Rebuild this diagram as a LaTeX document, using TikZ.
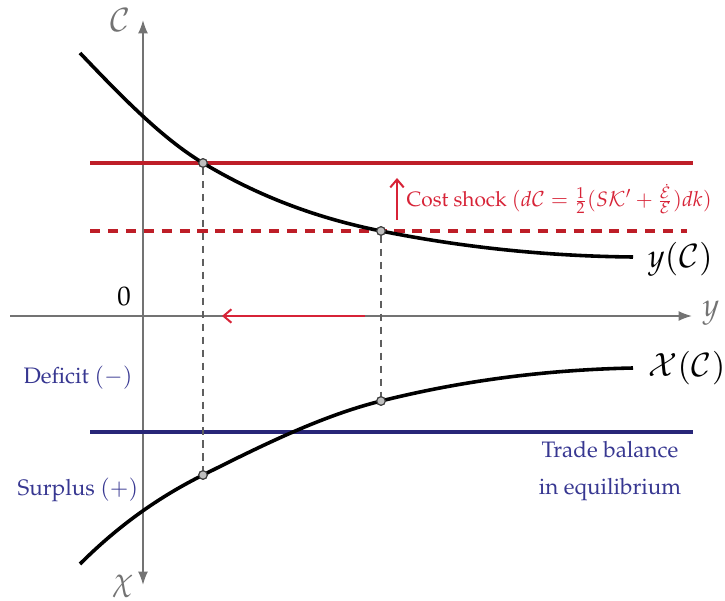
\documentclass[tikz,border=0pt]{standalone}
\usepackage[T1]{fontenc}
\usepackage{mathpazo}
\usetikzlibrary{arrows.meta, positioning}
\definecolor{CR}{RGB}{190,30,40}
\definecolor{TR}{RGB}{215,35,55}
\definecolor{NB}{RGB}{40,38,120}
\definecolor{TB}{RGB}{55,55,145}
\definecolor{AG}{RGB}{115,115,115}
\definecolor{DG}{RGB}{95,95,95}

\begin{document}
\begin{tikzpicture}[x=0.0157cm, y=-0.0157cm,
  axis/.style={draw=AG, line width=0.8pt},
  curve/.style={draw=black, line width=1.6pt},
  level/.style={draw=#1, line width=1.6pt},
  drop/.style={draw=DG, line width=0.8pt, dash pattern=on 3.2pt off 2.6pt},
  dot/.style={circle, draw=black!75, fill=black!25, line width=0.5pt,
              inner sep=0pt, minimum size=3.8pt},
  shockarr/.style={-{Straight Barb[length=3.5pt, width=6pt]}, draw=TR, line width=0.9pt},
  axlbl/.style={text=AG, font=\Large},
  blbl/.style={text=TB, font=\normalsize}
]
\useasboundingbox (0,0) rectangle (725,601);

% axes
\coordinate (vbot) at (143,585);
\coordinate (vtop) at (143,20);
\coordinate (hleft) at (10,316);
\coordinate (hright) at (692,316);
\draw[axis, {Latex[length=6pt, width=4.5pt]}-{Latex[length=6pt, width=4.5pt]}] (vbot) -- (vtop);
\draw[axis, -{Latex[length=6pt, width=4.5pt]}] (hleft) -- (hright);
\node[axlbl] (Clbl) at (120,20) {$\mathcal{C}$};
\node[axlbl] (chilbl) at (123,586) {$\chi$};
\node[axlbl] (ylbl) at (711,313) {$y$};
\node[font=\large] (zero) at (124,296) {0};

% cost levels and trade balance
\coordinate (rL) at (90,163);  \coordinate (rR) at (693,163);
\coordinate (dL) at (90,231);  \coordinate (dR) at (687,231);
\coordinate (bL) at (90,432);  \coordinate (bR) at (693,432);
\draw[level=CR] (rL) -- (rR);
\draw[level=CR, dash pattern=on 4.5pt off 3.5pt] (dL) -- (dR);
\draw[level=NB] (bL) -- (bR);

% intersection points
\node[dot] (eA) at (203,163) {};
\node[dot] (eB) at (381,231) {};
\node[dot] (xA) at (203,475) {};
\node[dot] (xB) at (381,401) {};
\draw[drop] (eA) -- (xA);
\draw[drop] (eB) -- (xB);

% curves
\coordinate (yS) at (80,53);   \coordinate (yE) at (633,257);
\coordinate (xS) at (80,564);  \coordinate (xE) at (633,368);
\draw[curve] (yS) .. controls (121,96) and (162,138.4) .. (eA.center)
  .. controls (262.3,198.6) and (321.7,219.1) .. (eB.center)
  .. controls (465,247.8) and (549,256.2) .. (yE);
\draw[curve] (xS) .. controls (121,523) and (162,495.5) .. (xA.center)
  .. controls (262.3,445.3) and (321.7,415.8) .. (xB.center)
  .. controls (465,380) and (549,369.7) .. (xE);
\node[dot] at (eA) {};
\node[dot] at (eB) {};
\node[dot] at (xA) {};
\node[dot] at (xB) {};
\node[font=\Large, anchor=west] (ylab) at (640,259) {$y(\mathcal{C})$};
\node[font=\Large, anchor=west] (xlab) at (640,368) {$\mathcal{X}(\mathcal{C})$};

% shock
\coordinate (sB) at (397,220);
\coordinate (sT) at (397,178);
\draw[shockarr] (sB) -- (sT);
\node[text=TR, anchor=west, inner sep=1pt, font=\fontsize{9.3}{11}\selectfont] (shock) at (404,199)
  {Cost shock $(d\mathcal{C} = \frac{1}{2}(S\mathcal{K}' + \frac{\dot{\mathcal{E}}}{\mathcal{E}})dk)$};
\coordinate (aR) at (365,316);
\coordinate (aL) at (222,316);
\draw[shockarr] (aR) -- (aL);

% trade balance labels
\node[blbl] (def) at (78,378) {Deficit $(-)$};
\node[blbl] (sur) at (78,490) {Surplus $(+)$};
\node[blbl, align=center] (tb) at (610,471) {Trade balance\\[4.5pt] in equilibrium};
\end{tikzpicture}
\end{document}
